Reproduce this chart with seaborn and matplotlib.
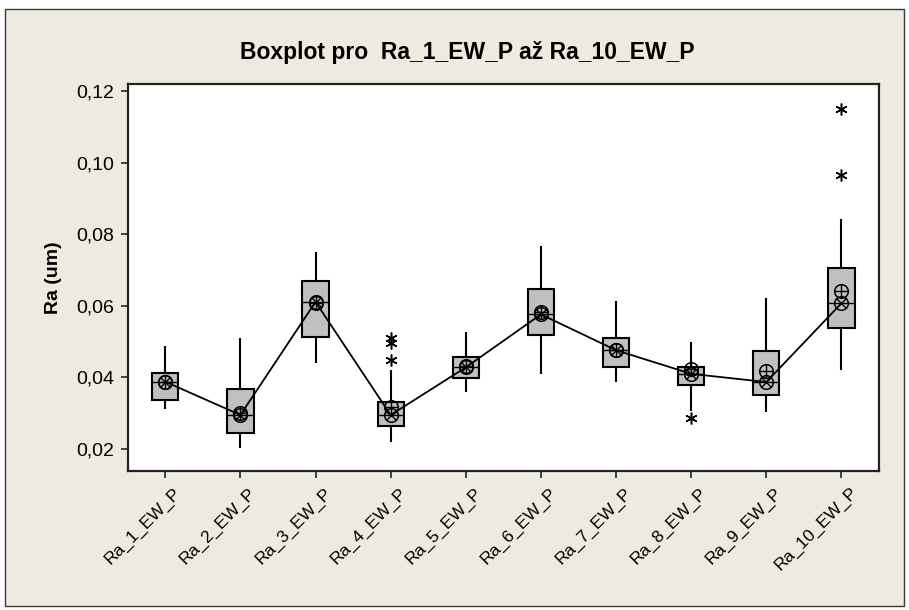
import numpy as np
import pandas as pd
import matplotlib
matplotlib.use("Agg")
import matplotlib.pyplot as plt
from matplotlib.patches import Rectangle
from matplotlib.ticker import FuncFormatter
from matplotlib.transforms import ScaledTranslation
import seaborn as sns

# ---- data ----
categories = ["Ra_1_EW_P", "Ra_2_EW_P", "Ra_3_EW_P", "Ra_4_EW_P", "Ra_5_EW_P",
              "Ra_6_EW_P", "Ra_7_EW_P", "Ra_8_EW_P", "Ra_9_EW_P", "Ra_10_EW_P"]
whisker_lo = [0.0311, 0.0202, 0.0439, 0.0220, 0.0360, 0.0409, 0.0388, 0.0307, 0.0303, 0.0422]
q1 = [0.0337, 0.0246, 0.0514, 0.0264, 0.0399, 0.0518, 0.0430, 0.0378, 0.0351, 0.0537]
medians = [0.0388, 0.0295, 0.0611, 0.0295, 0.0428, 0.0576, 0.0476, 0.0410, 0.0387, 0.0607]
q3 = [0.0413, 0.0368, 0.0668, 0.0330, 0.0456, 0.0646, 0.0509, 0.0428, 0.0475, 0.0705]
whisker_hi = [0.0488, 0.0509, 0.0751, 0.0421, 0.0526, 0.0768, 0.0614, 0.0499, 0.0623, 0.0842]
means = [0.0388, 0.0301, 0.0607, 0.0316, 0.0432, 0.0582, 0.0477, 0.0424, 0.0417, 0.0642]
outliers = [[], [], [], [0.0450, 0.0495, 0.0509], [], [], [], [0.0287], [], [0.0966, 0.1149]]
y_ticks = [0.02, 0.04, 0.06, 0.08, 0.10, 0.12]

# Long table whose quartiles / whiskers reproduce the read box statistics
rows = []
for i, cat in enumerate(categories):
    vals = ([whisker_lo[i]] + [q1[i]] * 4 + [medians[i]] * 4 + [q3[i]] * 4
            + [whisker_hi[i]] + list(outliers[i]))
    rows += [(cat, v) for v in vals]
df = pd.DataFrame(rows, columns=["group", "Ra"])

sns.set_style("ticks")
plt.rcParams["font.family"] = ["Liberation Sans", "DejaVu Sans"]
plt.rcParams.update({"text.color": "black", "axes.labelcolor": "black",
                     "xtick.color": "black", "ytick.color": "black"})

fig = plt.figure(figsize=(9.09, 6.10), dpi=100, facecolor="white")
W, H = 909, 610
bg = Rectangle((5 / W, 1 - 606 / H), 899 / W, 597 / H,
               transform=fig.transFigure, facecolor="#EEEAE0",
               edgecolor="#3a3a3a", linewidth=1.0, zorder=-10)
fig.add_artist(bg)
ax = fig.add_axes([127.7 / W, 1 - 470.7 / H, (879 - 127.7) / W, (470.7 - 84) / H])
ax.set_zorder(5)
ax.set_facecolor("white")

sns.boxplot(data=df, x="group", y="Ra", order=categories, ax=ax,
            color="#C0C0C0", saturation=1, width=0.35, linecolor="black",
            linewidth=1.5, whis=1.5,
            medianprops=dict(color="black", linewidth=1.0),
            capprops=dict(visible=False),
            flierprops=dict(marker=(6, 2, 0), markersize=8.5,
                            markeredgecolor="black", markeredgewidth=1.1,
                            markerfacecolor="black"))

# median connect line with median symbols (circle with x)
sns.pointplot(x=categories, y=medians, order=categories, ax=ax, errorbar=None,
              color="black", marker="o", linestyle="-", linewidth=1.3,
              markersize=9.8, markerfacecolor="none", markeredgewidth=1.1)
sns.pointplot(x=categories, y=medians, order=categories, ax=ax, errorbar=None,
              color="black", marker="x", linestyle="none", markersize=6.9,
              markeredgewidth=1.0)
# mean symbols (circle with plus)
sns.pointplot(x=categories, y=means, order=categories, ax=ax, errorbar=None,
              color="black", marker="o", linestyle="none",
              markersize=9.8, markerfacecolor="none", markeredgewidth=1.1)
sns.pointplot(x=categories, y=means, order=categories, ax=ax, errorbar=None,
              color="black", marker="+", linestyle="none", markersize=9.8,
              markeredgewidth=1.0)

ax.set_xlim(-0.5, 9.5)
ax.set_ylim(0.01394, 0.12196)
ax.set_yticks(y_ticks)
ax.yaxis.set_major_formatter(FuncFormatter(lambda v, p: f"{v:.2f}".replace(".", ",")))
ax.set_xlabel("")
ax.set_ylabel("Ra (um)", fontsize=14, fontweight="bold")
ax.yaxis.set_label_coords((62 - 127.7) / 751.3, 0.5)
ax.tick_params(axis="y", labelsize=14, length=5, width=1.2, color="#222222", pad=4.5)
ax.tick_params(axis="x", labelsize=12.5, length=5, width=1.2, color="#222222", pad=3)
offset = ScaledTranslation(8 / 100, -3 / 100, fig.dpi_scale_trans)
for lab in ax.get_xticklabels():
    lab.set_rotation(45)
    lab.set_ha("right")
    lab.set_rotation_mode("anchor")
    lab.set_transform(lab.get_transform() + offset)
for s in ax.spines.values():
    s.set_visible(True)
    s.set_linewidth(1.6)
    s.set_color("#222222")

fig.text(467 / W, 1 - 53 / H, "Boxplot pro  Ra_1_EW_P až Ra_10_EW_P",
         ha="center", va="center", fontsize=16.5, fontweight="bold")

fig.savefig("out.png", dpi=100, facecolor=fig.get_facecolor())
